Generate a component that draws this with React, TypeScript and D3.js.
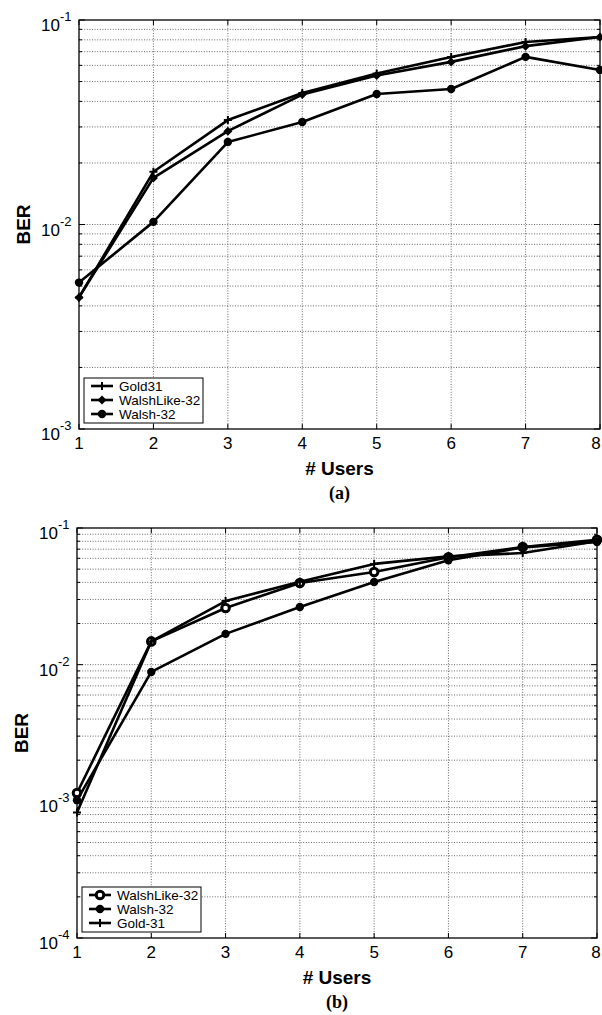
import * as d3 from "d3";

const users = [1, 2, 3, 4, 5, 6, 7, 8];

// panel (a)
const aGold31 = [0.0044, 0.0181, 0.0324, 0.044, 0.0548, 0.066, 0.078, 0.0826];
const aWalshLike32 = [0.0044, 0.0169, 0.0286, 0.0432, 0.0535, 0.0624, 0.0745, 0.0826];
const aWalsh32 = [0.0052, 0.0103, 0.0253, 0.0317, 0.0435, 0.046, 0.066, 0.057];

// panel (b)
const bWalshLike32 = [0.00115, 0.0148, 0.026, 0.0396, 0.0477, 0.061, 0.0726, 0.082];
const bWalsh32 = [0.00102, 0.00885, 0.0168, 0.0264, 0.0403, 0.058, 0.072, 0.079];
const bGold31 = [0.00083, 0.0148, 0.0292, 0.0405, 0.0546, 0.062, 0.0656, 0.08];

const xTicks = users;

type Marker = "plus" | "diamond" | "dot" | "ring";
type Series = { name: string; values: number[]; marker: Marker };

const panelA: Series[] = [
  { name: "Gold31", values: aGold31, marker: "plus" },
  { name: "WalshLike-32", values: aWalshLike32, marker: "diamond" },
  { name: "Walsh-32", values: aWalsh32, marker: "dot" },
];

const panelB: Series[] = [
  { name: "WalshLike-32", values: bWalshLike32, marker: "ring" },
  { name: "Walsh-32", values: bWalsh32, marker: "dot" },
  { name: "Gold-31", values: bGold31, marker: "plus" },
];

const FONT = "'Liberation Sans', Arial, Helvetica, sans-serif";

const MarkerShape = ({ kind, x, y }: { kind: Marker; x: number; y: number }) => {
  if (kind === "plus")
    return (
      <path
        d={`M${x - 4},${y}H${x + 4}M${x},${y - 4}V${y + 4}`}
        stroke="#000"
        strokeWidth={2}
      />
    );
  if (kind === "diamond")
    return <path d={`M${x},${y - 4.5}L${x + 4.5},${y}L${x},${y + 4.5}L${x - 4.5},${y}Z`} fill="#000" />;
  if (kind === "ring")
    return <circle cx={x} cy={y} r={3.8} fill="#fff" stroke="#000" strokeWidth={3} />;
  return <circle cx={x} cy={y} r={4.2} fill="#000" />;
};

type PanelProps = {
  series: Series[];
  left: number;
  right: number;
  top: number;
  bottom: number;
  minExp: number;
  caption: string;
  legendTop: number;
};

const Panel = ({ series, left, right, top, bottom, minExp, caption, legendTop }: PanelProps) => {
  const x = d3.scaleLinear().domain([1, 8]).range([left, right]);
  const y = d3.scaleLog().domain([Math.pow(10, minExp), 0.1]).range([bottom, top]);

  const majors: number[] = [];
  const minors: number[] = [];
  for (let e = minExp; e <= -1; e++) {
    majors.push(Math.pow(10, e));
    if (e < -1) for (let m = 2; m <= 9; m++) minors.push(m * Math.pow(10, e));
  }

  const line = d3
    .line<number>()
    .x((_, i) => x(users[i]))
    .y((v) => y(v));

  const legendLeft = left + 5;
  const rowH = 14;

  return (
    <g>
      {/* grid */}
      {xTicks.slice(1, -1).map((t) => (
        <line key={`gx${t}`} x1={x(t)} x2={x(t)} y1={top} y2={bottom} stroke="#444" strokeWidth={0.8} strokeDasharray="1,1.6" />
      ))}
      {[...majors.slice(1, -1), ...minors].map((v, i) => (
        <line key={`gy${i}`} x1={left} x2={right} y1={y(v)} y2={y(v)} stroke="#444" strokeWidth={0.8} strokeDasharray="1,1.6" />
      ))}
      {/* ticks */}
      {xTicks.map((t) => (
        <g key={`tx${t}`}>
          <line x1={x(t)} x2={x(t)} y1={bottom} y2={bottom - 5} stroke="#000" />
          <line x1={x(t)} x2={x(t)} y1={top} y2={top + 5} stroke="#000" />
          <text x={Math.min(x(t), 596)} y={bottom + 20} textAnchor="middle" fontSize={17} fontFamily={FONT}>
            {t}
          </text>
        </g>
      ))}
      {majors.map((v) => (
        <g key={`ty${v}`}>
          <line x1={left} x2={left + 6} y1={y(v)} y2={y(v)} stroke="#000" />
          <line x1={right} x2={right - 6} y1={y(v)} y2={y(v)} stroke="#000" />
          <text x={left - 19} y={y(v) + 11} textAnchor="end" fontSize={17} fontFamily={FONT}>
            10
          </text>
          <text x={left - 19} y={y(v) + 1} textAnchor="start" fontSize={13} fontFamily={FONT}>
            {Math.round(Math.log10(v))}
          </text>
        </g>
      ))}
      {minors.map((v, i) => (
        <g key={`my${i}`}>
          <line x1={left} x2={left + 3} y1={y(v)} y2={y(v)} stroke="#000" />
          <line x1={right} x2={right - 3} y1={y(v)} y2={y(v)} stroke="#000" />
        </g>
      ))}
      <rect x={left} y={top} width={right - left} height={bottom - top} fill="none" stroke="#000" strokeWidth={1.3} />

      {/* series */}
      {series.map((s) => (
        <g key={s.name}>
          <path d={line(s.values) ?? ""} fill="none" stroke="#000" strokeWidth={2.6} strokeLinejoin="round" />
          {s.values.map((v, i) => (
            <MarkerShape key={i} kind={s.marker} x={x(users[i])} y={y(v)} />
          ))}
        </g>
      ))}

      {/* legend */}
      <rect x={legendLeft} y={legendTop} width={119} height={rowH * 3 + 3} fill="#fff" stroke="#000" strokeWidth={1} />
      {series.map((s, i) => {
        const ly = legendTop + 8 + i * rowH;
        return (
          <g key={`lg${s.name}`}>
            <line x1={legendLeft + 7} x2={legendLeft + 29} y1={ly} y2={ly} stroke="#000" strokeWidth={2.6} />
            <MarkerShape kind={s.marker} x={legendLeft + 18} y={ly} />
            <text x={legendLeft + 35} y={ly + 5} fontSize={13.5} fontFamily={FONT}>
              {s.name}
            </text>
          </g>
        );
      })}

      {/* labels */}
      <text
        transform={`translate(${left - 49},${(top + bottom) / 2}) rotate(-90)`}
        textAnchor="middle"
        fontSize={19}
        fontWeight="bold"
        fontFamily={FONT}
      >
        BER
      </text>
      <text x={(left + right) / 2} y={bottom + 46} textAnchor="middle" fontSize={19} fontWeight="bold" fontFamily={FONT}>
        # Users
      </text>
      <text
        x={(left + right) / 2}
        y={bottom + 70}
        textAnchor="middle"
        fontSize={18}
        fontWeight="bold"
        fontFamily="'Liberation Serif', 'Times New Roman', serif"
      >
        {caption}
      </text>
    </g>
  );
};

export default function App() {
  return (
    <svg
      width={602}
      height={1015}
      style={{ position: "absolute", left: 0, top: 0, background: "#fff" }}
    >
      <rect width={602} height={1015} fill="#fff" />
      <Panel series={panelA} left={79} right={600} top={20} bottom={429} minExp={-3} caption="(a)" legendTop={378} />
      <Panel series={panelB} left={77} right={597} top={528} bottom={938} minExp={-4} caption="(b)" legendTop={887} />
    </svg>
  );
}
